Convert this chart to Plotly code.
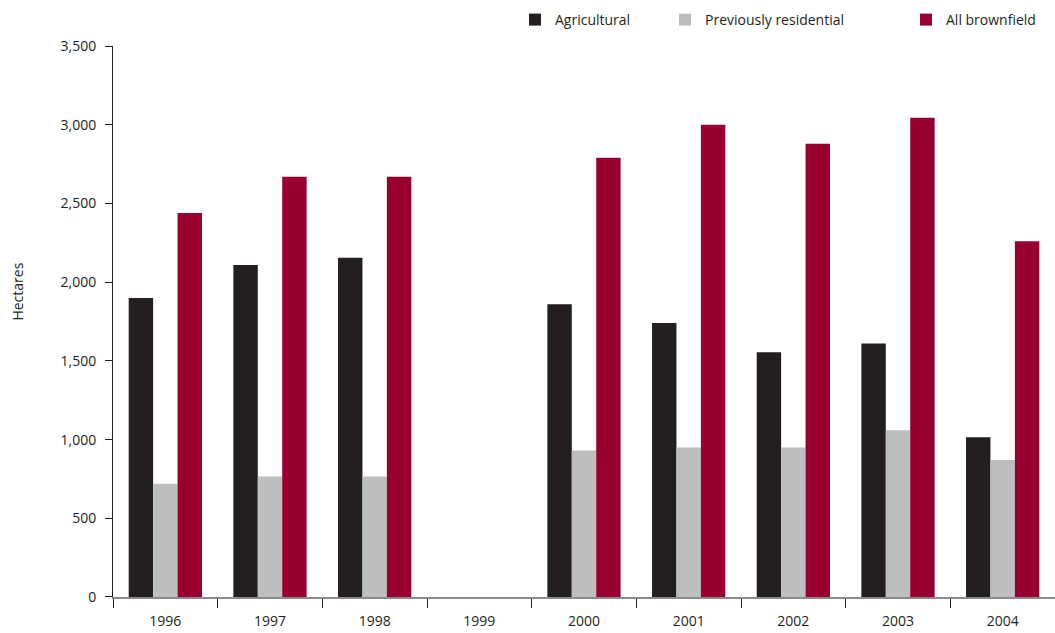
import plotly.graph_objects as go

years = ["1996", "1997", "1998", "1999", "2000", "2001", "2002", "2003", "2004"]
agricultural = [1900, 2110, 2155, None, 1860, 1740, 1555, 1610, 1015]
prev_residential = [720, 765, 765, None, 930, 950, 950, 1060, 870]
all_brownfield = [2440, 2670, 2670, None, 2790, 3000, 2880, 3045, 2260]

series_names = ["Agricultural", "Previously residential", "All brownfield"]
colors = ["#231f20", "#bcbec0", "#990030"]
legend_ids = ["legend", "legend2", "legend3"]
legend_x = [515, 665, 906]

FONT = "Open Sans"
W, H = 1055, 633

fig = go.Figure()
for name, vals, col, lid in zip(series_names, [agricultural, prev_residential, all_brownfield], colors, legend_ids):
    fig.add_trace(go.Bar(x=years, y=vals, name=name, marker=dict(color=col, line=dict(width=0)),
                         legend=lid, showlegend=True))

leg_common = dict(orientation="h", xref="container", yref="container", yanchor="middle",
                  xanchor="left", bgcolor="rgba(0,0,0,0)", borderwidth=0,
                  font=dict(family=FONT, size=14, color="#231f20"))
fig.update_layout(
    width=W, height=H,
    showlegend=True,
    margin=dict(l=113, r=0, t=45, b=36),
    paper_bgcolor="white", plot_bgcolor="white",
    barmode="group", bargap=0.3, bargroupgap=0,
    font=dict(family=FONT, size=14, color="#231f20"),
    legend=dict(x=legend_x[0] / W, y=1 - 20 / H, **leg_common),
    legend2=dict(x=legend_x[1] / W, y=1 - 20 / H, **leg_common),
    legend3=dict(x=legend_x[2] / W, y=1 - 20 / H, **leg_common),
    xaxis=dict(type="category", showgrid=False, showline=True, linecolor="#8a8a8a", linewidth=2,
               ticks="outside", tickson="boundaries", ticklen=9, tickcolor="#231f20", tickwidth=1,
               ticklabelstandoff=10,
               tickfont=dict(family=FONT, size=14, color="#231f20"), zeroline=False),
    yaxis=dict(range=[0, 3500], dtick=500, tickformat=",", showgrid=False, zeroline=False,
               showline=True, linecolor="#231f20", linewidth=1,
               ticks="outside", ticklen=7, tickcolor="#231f20", ticklabelstandoff=6,
               tickfont=dict(family=FONT, size=14, color="#231f20")),
    annotations=[dict(text="Hectares", textangle=-90, xref="paper", yref="paper",
                      x=-95 / 942, y=(597 - 291) / 552, xanchor="center", yanchor="middle",
                      showarrow=False, font=dict(family=FONT, size=14, color="#231f20"))],
)

fig.write_html("out.html")
